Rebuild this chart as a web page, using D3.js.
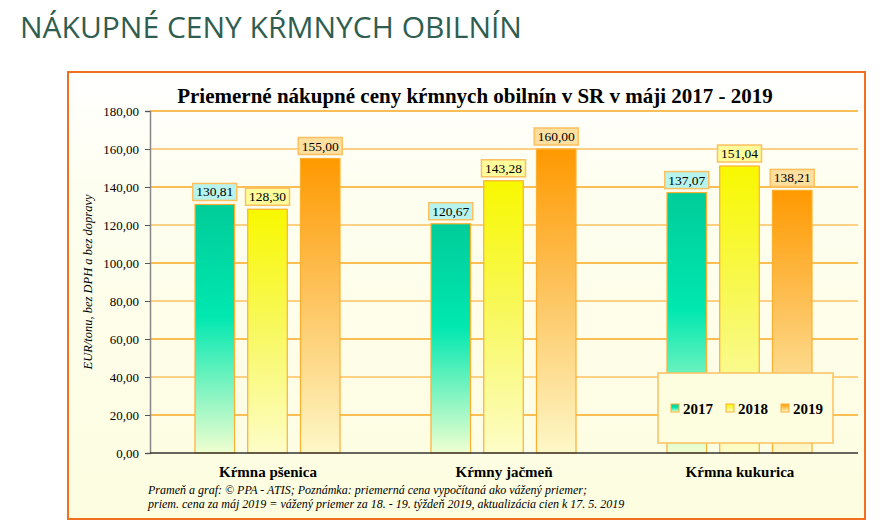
<!DOCTYPE html>
<html><head><meta charset="utf-8">
<script src="https://cdn.jsdelivr.net/npm/d3@7"></script>
<style>body{margin:0;background:#fff}</style></head>
<body><svg id="c" width="885" height="531"></svg>
<script>
const categories = ['Kŕmna pšenica', 'Kŕmny jačmeň', 'Kŕmna kukurica']
const years = ['2017', '2018', '2019']
const values2017 = [130.81, 120.67, 137.07]
const values2018 = [128.30, 143.28, 151.04]
const values2019 = [155.00, 160.00, 138.21]
const yTicks = [0, 20, 40, 60, 80, 100, 120, 140, 160, 180]

const series = [values2017, values2018, values2019]
const svg = d3.select('#c')
const serif = 'Liberation Serif, Times New Roman, serif'
const defs = svg.append('defs')

function grad (id, stops) {
  const g = defs.append('linearGradient').attr('id', id).attr('x1', 0).attr('y1', 0).attr('x2', 0).attr('y2', 1)
  stops.forEach(s => g.append('stop').attr('offset', s[0]).attr('stop-color', s[1]))
}
grad('g0', [[0, '#00cc99'], [0.45, '#00e8b0'], [1, '#f0ffd0']])
grad('g1', [[0, '#f8f800'], [0.5, '#f8f860'], [1, '#fdfdc8']])
grad('g2', [[0, '#ff9900'], [0.45, '#fdc25a'], [1, '#fdf8c8']])
grad('bg', [[0, '#ffffff'], [0.25, '#fefef0'], [1, '#fdfde0']])
const labelFill = ['#b8f4ee', '#fdfd9c', '#fde0a0']

svg.append('text').attr('x', 20).attr('y', 38).attr('fill', '#2f5e50')
  .attr('font-family', 'Open Sans, sans-serif').attr('font-size', 30)
  .text('NÁKUPNÉ CENY KŔMNYCH OBILNÍN')

svg.append('rect').attr('x', 68).attr('y', 72).attr('width', 797).attr('height', 447)
  .attr('fill', 'url(#bg)').attr('stroke', '#f07020').attr('stroke-width', 2)

const m = { l: 150, r: 858, t: 111, b: 453 }
const x0 = d3.scaleBand().domain(categories).range([m.l, m.r])
const x1 = d3.scaleBand().domain(years).range([45, 190]).paddingInner(0.25)
const y = d3.scaleLinear().domain([0, 180]).range([m.b, m.t])

svg.append('g').selectAll('line').data(yTicks.slice(1)).join('line')
  .attr('x1', m.l).attr('x2', m.r).attr('y1', d => y(d)).attr('y2', d => y(d))
  .attr('stroke', (d, i) => i % 2 ? '#fdc060' : '#f8a820').attr('stroke-width', 1.5)

svg.append('text').attr('x', 475).attr('y', 103).attr('text-anchor', 'middle')
  .attr('font-family', serif).attr('font-weight', 'bold').attr('font-size', 21)
  .text('Priemerné nákupné ceny kŕmnych obilnín v SR v máji 2017 - 2019')

const gy = svg.append('g').attr('transform', `translate(${m.l},0)`)
  .call(d3.axisLeft(y).tickValues(yTicks).tickSize(5).tickFormat(d => d3.format('.2f')(d).replace('.', ',')))
gy.selectAll('text').attr('font-family', serif).attr('font-size', 13).attr('dx', -3)
gy.select('.domain').attr('stroke', '#888').attr('stroke-width', 1.5)
gy.selectAll('.tick line').attr('stroke', '#555')

svg.append('text').attr('transform', 'translate(92,282) rotate(-90)').attr('text-anchor', 'middle')
  .attr('font-family', serif).attr('font-style', 'italic').attr('font-size', 12.5)
  .text('EUR/tonu, bez DPH a bez dopravy')

categories.forEach((c, ci) => {
  const g = svg.append('g').attr('transform', `translate(${x0(c)},0)`)
  years.forEach((yr, si) => {
    const v = series[si][ci]
    const bx = x1(yr), bw = x1.bandwidth()
    g.append('rect').attr('x', bx).attr('y', y(v)).attr('width', bw).attr('height', y(0) - y(v))
      .attr('fill', `url(#g${si})`).attr('stroke', '#fdb030').attr('stroke-width', 1.2)
    const t = d3.format('.2f')(v).replace('.', ',')
    g.append('rect').attr('x', bx + bw / 2 - 22).attr('y', y(v) - 21).attr('width', 44).attr('height', 17)
      .attr('fill', labelFill[si]).attr('stroke', '#fdc060').attr('stroke-width', 1.5)
    g.append('text').attr('x', bx + bw / 2).attr('y', y(v) - 8).attr('text-anchor', 'middle')
      .attr('font-family', serif).attr('font-size', 13.5).text(t)
  })
  svg.append('text').attr('x', x0(c) + x0.bandwidth() / 2).attr('y', 477).attr('text-anchor', 'middle')
    .attr('font-family', serif).attr('font-weight', 'bold').attr('font-size', 15).text(c)
})

svg.append('line').attr('x1', m.l).attr('x2', m.r).attr('y1', m.b).attr('y2', m.b).attr('stroke', '#333').attr('stroke-width', 1.5)

const lg = svg.append('g').attr('transform', 'translate(658,373)')
lg.append('rect').attr('width', 175).attr('height', 70).attr('fill', '#fdfde0').attr('stroke', '#fdc060').attr('stroke-width', 1.5)
years.forEach((yr, i) => {
  const lx = 13 + i * 55
  lg.append('rect').attr('x', lx).attr('y', 31).attr('width', 8).attr('height', 8).attr('fill', `url(#g${i})`).attr('stroke', '#fdb030')
  lg.append('text').attr('x', lx + 12).attr('y', 41).attr('font-family', serif).attr('font-weight', 'bold').attr('font-size', 15).text(yr)
})

const notes = ['Prameň a graf: © PPA - ATIS; Poznámka: priemerná cena vypočítaná ako vážený priemer;',
  'priem. cena za máj 2019 = vážený priemer za 18. - 19. týždeň 2019, aktualizácia cien k 17. 5. 2019']
svg.append('g').selectAll('text').data(notes).join('text')
  .attr('x', 148).attr('y', (d, i) => 494 + i * 14).attr('font-family', serif).attr('font-style', 'italic').attr('font-size', 12).text(d => d)
</script></body></html>
